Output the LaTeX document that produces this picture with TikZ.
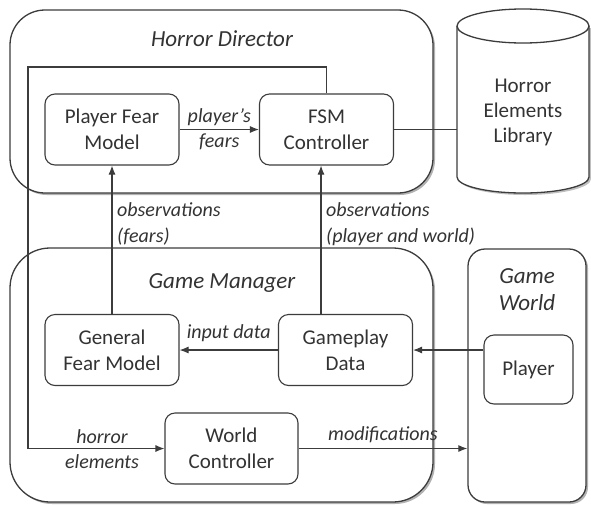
\documentclass[tikz,border=0pt]{standalone}
\usepackage{fontspec}
\setmainfont{Carlito}
\usetikzlibrary{arrows.meta,shadows,calc}
\definecolor{ln}{HTML}{3C3C3C}
\definecolor{tx}{HTML}{333333}
\tikzset{
  bigbox/.style={draw=ln, line width=1.3pt, fill=white, inner sep=0pt,
    drop shadow={shadow xshift=2pt, shadow yshift=-2pt, opacity=0.3, fill=black}},
  smallbox/.style={draw=ln, line width=1.1pt, fill=white, rounded corners=10pt,
    minimum width=134pt, minimum height=71pt, inner sep=0pt, align=center,
    text=tx, font=\fontsize{21}{26}\selectfont},
  title/.style={text=tx, font=\fontsize{23}{27}\selectfont\itshape, align=center, inner sep=0pt},
  lbl/.style={text=tx, font=\fontsize{20}{25}\selectfont\itshape, align=center, inner sep=0pt},
  lblL/.style={text=tx, font=\fontsize{20}{26}\selectfont\itshape, align=left, inner sep=0pt, anchor=west},
  conn/.style={draw=ln, line width=1.1pt},
  arr/.style={conn, -{Latex[length=9pt,width=7pt]}},
}
\begin{document}
\begin{tikzpicture}[x=1pt,y=-1pt]
\useasboundingbox (0,0) rectangle (591,504);
% containers
\node[bigbox, rounded corners=35pt, minimum width=423pt, minimum height=183pt] (HD) at (221.5,101.5) {};
\node[title] (HDt) at (222,39) {Horror Director};
\node[bigbox, rounded corners=40pt, minimum width=423pt, minimum height=254pt] (GM) at (221.5,375) {};
\node[title] (GMt) at (222,283) {Game Manager};
\node[bigbox, rounded corners=17pt, minimum width=118pt, minimum height=253pt] (GW) at (527,375.5) {};
\node[title] (GWt) at (527,290) {Game\\World};
% cylinder
\fill[black, opacity=0.25] (459,28) -- (459,179) arc[start angle=180, end angle=360, x radius=66pt, y radius=16pt] -- (591,28) -- cycle;
\draw[ln, line width=1.3pt, fill=white] (457,26) -- (457,177) arc[start angle=180, end angle=360, x radius=66pt, y radius=16pt] -- (589,26);
\draw[ln, line width=1.3pt, fill=white] (523,26) ellipse[x radius=66pt, y radius=17pt];
\coordinate (cylW) at (457,129.5);
\node[text=tx, font=\fontsize{21}{25}\selectfont, align=center] (HEL) at (523,112) {Horror\\Elements\\Library};
% inner nodes
\node[smallbox] (PFM) at (112,129.5) {Player Fear\\Model};
\node[smallbox] (FSM) at (326.5,129.5) {FSM\\Controller};
\node[smallbox] (GFM) at (112,350) {General\\Fear Model};
\node[smallbox] (GD) at (345.5,350) {Gameplay\\Data};
\node[smallbox, minimum width=89pt, minimum height=69pt] (PL) at (528.5,369.5) {Player};
\node[smallbox, minimum width=133pt] (WC) at (231.5,448.5) {World\\Controller};
% connectors
\draw[arr] (PFM.east) -- (FSM.west) node[lbl, midway] {player's\\fears};
\draw[conn] (FSM.east) -- (cylW);
\draw[arr] (GFM.north) -- (PFM.south);
\node[lblL] (obs1) at (117,224) {observations\\(fears)};
\coordinate (obsx) at (321,0);
\draw[arr] (obsx |- GD.north) -- (obsx |- FSM.south);
\node[lblL] (obs2) at (326,224) {observations\\(player and world)};
\coordinate (loopTL) at (28,67);
\draw[arr] (FSM.north) |- (loopTL) |- (WC.west);
\node[lbl] (he) at (102,449.5) {horror\\elements};
\draw[arr] (GD.west) -- (GFM.east) node[lbl, midway, above=8pt] {input data};
\draw[arr] (GD.east -| PL.west) -- (GD.east);
\draw[arr] (WC.east) -- (WC.east -| GW.west) node[lbl, midway, above=5pt] {modifications};
\end{tikzpicture}
\end{document}
